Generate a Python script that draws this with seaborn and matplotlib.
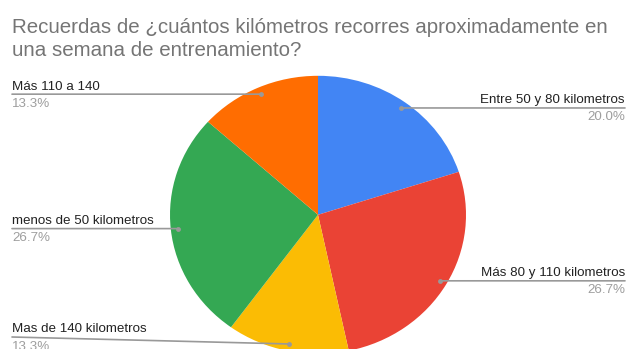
import matplotlib
matplotlib.use("Agg")
import matplotlib.pyplot as plt
import numpy as np
import seaborn as sns

# Survey answers: weekly training distance
categories = [
    "Entre 50 y 80 kilometros",
    "Más 80 y 110 kilometros",
    "Mas de 140 kilometros",
    "menos de 50 kilometros",
    "Más 110 a 140",
]
counts = [3, 4, 2, 4, 2]
colors = ["#4285F4", "#EA4335", "#FBBC04", "#34A853", "#FF6D01"]
title_lines = [
    "Recuerdas de ¿cuántos kilómetros recorres aproximadamente en",
    "una semana de entrenamiento?",
]

sns.set_theme(style="white")
plt.rcParams["font.family"] = ["Liberation Sans", "DejaVu Sans"]

W, H = 634, 349
fig = plt.figure(figsize=(W / 100, H / 100), dpi=100)
fig.patch.set_facecolor("white")

# Pie axes placed by pixel geometry (center and radii)
cx, cy, rx, ry = 318, 214.8, 148, 139
ax = fig.add_axes([(cx - rx) / W, (H - cy - ry) / H, 2 * rx / W, 2 * ry / H])
wedges, _ = ax.pie(counts, colors=colors, startangle=90, counterclock=False,
                   wedgeprops=dict(linewidth=0))
ax.set_aspect("auto")
ax.set_xlim(-1, 1)
ax.set_ylim(-1, 1)
ax.axis("off")

# Label layout: side and, optionally, a fixed leader-line end height (px from top)
layout = {
    "Entre 50 y 80 kilometros": ("right", None),
    "Más 80 y 110 kilometros": ("right", None),
    "Mas de 140 kilometros": ("left", 337),
    "menos de 50 kilometros": ("left", None),
    "Más 110 a 140": ("left", None),
}

total = sum(counts)
line_col = "#999999"
for w, name, val in zip(wedges, categories, counts):
    mid = np.deg2rad((w.theta1 + w.theta2) / 2)
    dx, dy = 0.95 * np.cos(mid), 0.95 * np.sin(mid)
    px, py = ax.transData.transform((dx, dy))
    side, fixed_y = layout[name]
    ly = (H - fixed_y) if fixed_y is not None else py
    lx = 12 if side == "left" else 625
    ax.annotate("", xy=(dx, dy), xycoords="data", xytext=(lx, ly),
                textcoords="figure pixels",
                arrowprops=dict(arrowstyle="-", color=line_col, lw=1.2,
                                shrinkA=0, shrinkB=0))
    ax.plot([dx], [dy], "o", color=line_col, ms=3.5, mec="none")
    ha = "left" if side == "left" else "right"
    fig.text(lx / W, (ly + 4.5) / H, name, ha=ha, va="baseline",
             fontsize=9.6, color="#222222")
    fig.text(lx / W, (ly - 12.5) / H, f"{val / total * 100:.1f}%", ha=ha,
             va="baseline", fontsize=9.6, color="#9e9e9e")

fig.text(12 / W, 1 - 33 / H, title_lines[0], ha="left", va="baseline",
         fontsize=14.8, color="#757575")
fig.text(12 / W, 1 - 56.5 / H, title_lines[1], ha="left", va="baseline",
         fontsize=14.8, color="#757575")

fig.savefig("out.png", dpi=100)
